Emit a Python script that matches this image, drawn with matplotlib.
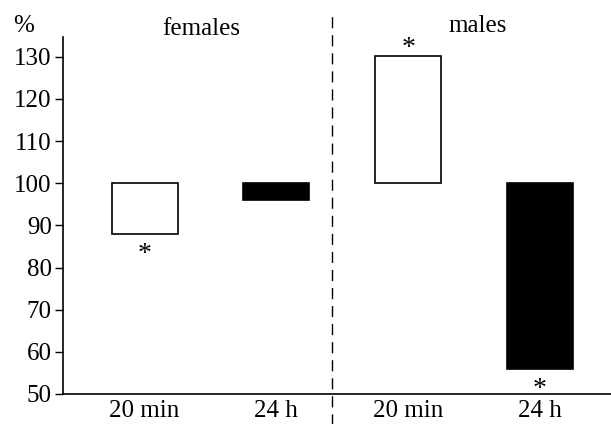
import matplotlib
matplotlib.use('Agg')
import matplotlib.pyplot as plt

plt.rcParams['font.family'] = ['Liberation Serif', 'DejaVu Serif']

# Data (percent of control, baseline 100)
groups = ['females', 'males']
tick_labels = ['20 min', '24 h', '20 min', '24 h']
values = [88, 96, 130.3, 56]
fills = ['white', 'black', 'white', 'black']
significant = [True, False, True, True]
BASE = 100

fig = plt.figure(figsize=(6.11, 4.24), dpi=100)
ax = fig.add_axes([0.103, 0.0708, 0.897, 0.842])

x = list(range(len(values)))
heights = [v - BASE for v in values]
ax.bar(x, heights, bottom=BASE, width=0.5, color=fills, edgecolor='black', linewidth=1.2)

# Asterisks for significant changes (baseline-anchored)
for xi, v, sig in zip(x, values, significant):
    if not sig:
        continue
    y = v - 6.4 if v < BASE else v + 0.1
    ax.text(xi, y, '*', ha='center', va='baseline', fontsize=20)

ax.set_xlim(-0.62, 3.54)
ax.set_ylim(50, 134.7)
ax.set_yticks(range(50, 131, 10))
ax.set_xticks(x)
ax.set_xticklabels(tick_labels)
ax.tick_params(axis='y', labelsize=18, direction='out', length=6, width=1, pad=2)
ax.tick_params(axis='x', labelsize=18, length=0, pad=4)

ax.spines['top'].set_visible(False)
ax.spines['right'].set_visible(False)
ax.spines['left'].set_linewidth(1.2)
ax.spines['bottom'].set_linewidth(1.2)

# Dashed separator between females and males
ax.axvline(1.42, ymin=-0.12, ymax=1.07, color='black', linestyle=(0, (8, 5)), linewidth=1, clip_on=False)

fig.text(0.329, 0.917, groups[0], ha='center', va='baseline', fontsize=18)
fig.text(0.782, 0.925, groups[1], ha='center', va='baseline', fontsize=18)
fig.text(0.038, 0.925, '%', ha='center', va='baseline', fontsize=18)

fig.savefig('out.png', dpi=100)
